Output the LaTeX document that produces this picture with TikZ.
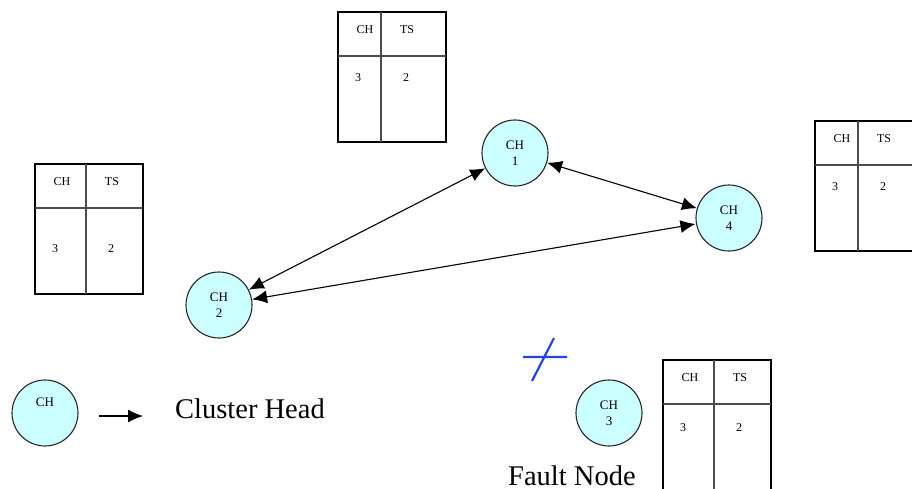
\documentclass[tikz,border=0pt]{standalone}
\usepackage{fontspec}
\setmainfont{Liberation Serif}
\usetikzlibrary{arrows.meta,positioning,calc}
\definecolor{headfill}{HTML}{CCFFFF}
\definecolor{faultblue}{HTML}{2244EE}
\tikzset{
  head/.style={circle,draw=black!85,line width=1.1pt,fill=headfill,minimum size=66pt,inner sep=0pt,align=center,font=\fontsize{13}{16}\selectfont},
  tip/.tip={Latex[length=15pt,width=13pt]},
  link/.style={tip-tip,line width=1.1pt},
  cell/.style={inner sep=0pt,font=\fontsize{12}{12}\selectfont},
  caption/.style={anchor=base west,inner sep=0pt,text depth=0pt,font=\fontsize{28.5}{30}\selectfont}
}
% table of CH and TS: name, corner x, corner y, divider, value row
\newcommand\tsbox[5]{%
  \begin{scope}[shift={(#2,#3)}]
    \draw[line width=1.2pt] (0,0) rectangle (108,130);
    \draw[line width=1.6pt,black!70] (0,44) -- (108,44) (#4,0) -- (#4,130);
    \node[cell] (#1-ch) at (27,18) {CH};
    \node[cell] (#1-ts) at (#4+26,18) {TS};
    \node[cell] (#1-c) at (20,#5) {3};
    \node[cell] (#1-t) at (#4+25,#5) {2};
  \end{scope}}
\begin{document}
\begin{tikzpicture}[x=1pt,y=-1pt]
\clip (0,0) rectangle (912,489);
% tables
\tsbox{tabtop}{338}{12}{43}{66}
\tsbox{tableft}{35}{164}{51}{85}
\tsbox{tabright}{815}{121}{43}{66}
\tsbox{tabbottom}{663}{360}{51}{68}
% cluster heads
\node[head] (ch1) at (515,153) {CH\\1};
\node[head] (ch2) at (219,305) {CH\\2};
\node[head] (ch4) at (729,218) {CH\\4};
\node[head] (ch3) at (609,413) {CH\\3};
\draw[link] (ch1) -- (ch2);
\draw[link] (ch1) -- (ch4);
\draw[link] ([yshift=-6pt]ch4.west) -- (ch2);
% broken link mark
\draw[faultblue,line width=2.2pt] (523,357) -- (567,357) (532,381) -- (554,338);
\node[caption] (fault) at (508,485) {Fault Node};
% legend
\node[head] (key) at (45,413) {CH\\\strut};
\coordinate (keyfrom) at (99,416);
\coordinate (keyto) at (143,416);
\draw[-tip,line width=1.1pt] (keyfrom) -- (keyto);
\node[caption] (keytext) at (175,418) {Cluster Head};
\end{tikzpicture}
\end{document}
